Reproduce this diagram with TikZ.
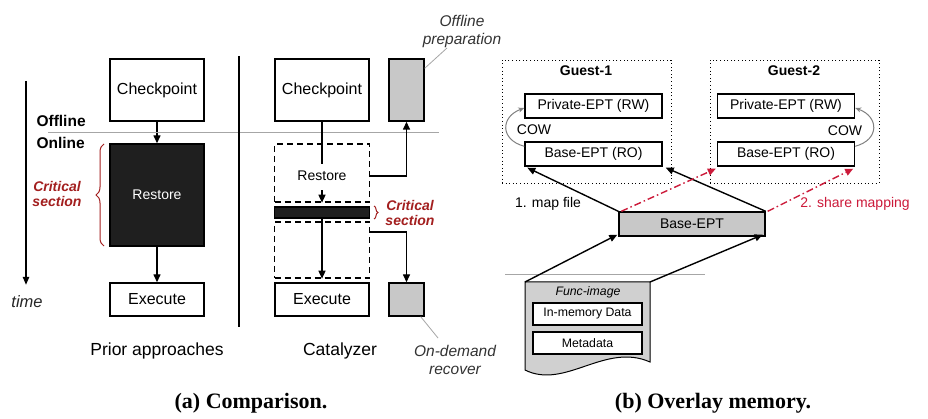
\documentclass[tikz,border=0pt]{standalone}
\usepackage{fontspec}
\setmainfont{Liberation Sans}
\newfontfamily\capfont{Liberation Serif}
\usetikzlibrary{arrows.meta,decorations.pathreplacing}
\definecolor{critred}{HTML}{A31F1F}
\definecolor{sharered}{HTML}{CC1A3A}
\definecolor{boxgray}{HTML}{C8C8C8}
\begin{document}
\begin{tikzpicture}[x=1pt,y=-1pt,
	box/.style={draw,line width=1.4pt,inner sep=0pt,minimum width=94pt,font=\fontsize{16}{19}\selectfont},
	dashbox/.style={draw,line width=1.4pt,dash pattern=on 6pt off 4pt,inner sep=0pt,minimum width=95pt},
	graybox/.style={draw,line width=1.4pt,fill=boxgray,inner sep=0pt,minimum width=35pt},
	eptbox/.style={draw,line width=1.4pt,inner sep=0pt,minimum width=137pt,minimum height=24pt,font=\fontsize{14}{17}\selectfont},
	guestbox/.style={draw,line width=0.9pt,dash pattern=on 1pt off 2.6pt,inner sep=0pt,minimum width=169pt,minimum height=123pt},
	flow/.style={-{Triangle[length=8pt,width=7pt]},line width=1.4pt},
	share/.style={-{Triangle[length=8pt,width=7pt]},line width=1.4pt,sharered,dash pattern=on 7pt off 3pt on 1.5pt off 3pt},
	cow/.style={-{Stealth[length=6pt,width=5pt]},line width=1pt,gray},
	leader/.style={line width=0.8pt,gray!70},
	crit/.style={critred,align=center,font=\fontsize{14}{15}\selectfont\bfseries\itshape},
	note/.style={align=center,font=\fontsize{15.5}{18}\selectfont\itshape,black!80},
	lbl/.style={font=\fontsize{17.5}{20}\selectfont},
	captxt/.style={font=\fontsize{22}{26}\selectfont\capfont\bfseries}]
	\useasboundingbox[fill=white] (0,0) rectangle (928,419);

	% (a) prior approaches
	\node[box,minimum height=62pt] (ckA) at (157,90) {Checkpoint};
	\node[box,minimum height=102pt,fill=black!88,text=white,font=\fontsize{14}{17}\selectfont] (rstA) at (157,195) {Restore};
	\node[box,minimum height=33pt] (exeA) at (157,299.5) {Execute};
	\draw[flow] (ckA.south) -- (rstA.north);
	\draw[flow] (rstA.south) -- (exeA.north);
	\draw[critred,line width=1pt,decorate,decoration={brace,amplitude=8pt}] (104,246) -- (104,144);
	\node[crit] (critA) at (57,194) {Critical\\section};

	\draw[-{Triangle[length=8pt,width=6pt]},line width=2pt] (26,81) -- (26,285);
	\node[font=\fontsize{16.5}{19}\selectfont\itshape,black!85] (time) at (27,302) {time};
	\node[anchor=west,font=\fontsize{15.5}{18}\selectfont\bfseries] (off) at (33,121) {Offline};
	\node[anchor=west,font=\fontsize{15.5}{18}\selectfont\bfseries] (on) at (33,143) {Online};
	\draw[leader] (48,132) -- (439,132);
	\draw[line width=2.5pt] (239,56) -- (239,327);

	% (a) catalyzer
	\node[box,minimum height=62pt] (ckB) at (322,90) {Checkpoint};
	\node[graybox,minimum height=62pt] (prepB) at (406.5,90) {};
	\node[dashbox,minimum height=58pt] (rstB) at (322,173) {};
	\node[font=\fontsize{14}{17}\selectfont] (rstBtxt) at (322,176) {Restore};
	\node[draw,line width=1.4pt,fill=black!88,minimum width=95pt,minimum height=11pt,inner sep=0pt] (barB) at (322,212.5) {};
	\node[dashbox,minimum height=56pt] (lowB) at (322,250) {};
	\node[box,minimum height=33pt] (exeB) at (322,299.5) {Execute};
	\node[graybox,minimum height=33pt] (recB) at (406.5,299.5) {};
	\draw[line width=1.4pt,shorten >=4pt] (ckB.south) -- (rstBtxt.north);
	\draw[flow,shorten <=6pt] (rstBtxt.south) -- (rstB.south);
	\draw[flow] (barB.south) -- (lowB.south);
	\draw[flow] (rstB.east |- rstBtxt) -| (prepB.south);
	\draw[flow] ([yshift=18pt]lowB.east) -| (recB.north);
	\draw[critred,line width=1pt,decorate,decoration={brace,amplitude=4pt}] (374,206) -- (374,219);
	\node[crit] (critB) at (410,213) {Critical\\section};

	\node[note] (prepTxt) at (462,31) {Offline\\preparation};
	\node[note] (recTxt) at (455,360) {On-demand\\recover};
	\draw[leader] ([yshift=-10pt]prepB.north east) -- (447,48);
	\draw[leader] ([xshift=-4pt]recB.south east) -- (438,338);

	\node[lbl] (priorTxt) at (157,351) {Prior approaches};
	\node[lbl] (catTxt) at (340,351) {Catalyzer};
	\node[captxt] (capA) at (251,403) {(a) Comparison.};

	% (b) overlay memory
	\node[guestbox] (g1) at (586.5,121.5) {};
	\node[guestbox] (g2) at (794.5,121.5) {};
	\node[font=\fontsize{14}{17}\selectfont\bfseries] (g1Txt) at (586,71) {Guest-1};
	\node[font=\fontsize{14}{17}\selectfont\bfseries] (g2Txt) at (794,71) {Guest-2};
	\node[eptbox] (p1) at (593.5,106) {Private-EPT (RW)};
	\node[eptbox] (b1) at (593.5,154) {Base-EPT (RO)};
	\node[eptbox] (p2) at (786,106) {Private-EPT (RW)};
	\node[eptbox] (b2) at (786,154) {Base-EPT (RO)};
	\node[font=\fontsize{14}{17}\selectfont] (cow1) at (534,130) {COW};
	\node[font=\fontsize{14}{17}\selectfont] (cow2) at (845,131) {COW};
	\draw[cow] ([yshift=-5pt]b1.north west) to[out=165,in=200,looseness=1.7] ([yshift=-2pt]p1.west);
	\draw[cow] ([yshift=-5pt]b2.north east) to[out=15,in=-20,looseness=1.7] ([yshift=-2pt]p2.east);

	\node[eptbox,fill=boxgray,minimum width=146pt] (be) at (692,224) {Base-EPT};
	\draw[flow] (be.north west) -- ([xshift=3pt,yshift=-1pt]b1.south west);
	\draw[flow] (be.north east) -- ([xshift=3pt,yshift=-1pt]b1.south east);
	\draw[share] ([xshift=3pt]be.north west) -- ([xshift=-1pt,yshift=-2pt]b2.south west);
	\draw[share] ([xshift=2pt]be.north east) -- ([xshift=-2pt,yshift=-2pt]b2.south east);
	\node[font=\fontsize{14}{17}\selectfont] (mapTxt) at (548,204) {1. map file};
	\node[font=\fontsize{14}{17}\selectfont,sharered] (shareTxt) at (855,204) {2. share mapping};

	\draw[leader] (505,274) -- (705,274);
	\coordinate (imgTL) at (525,282);
	\coordinate (imgTR) at (650,282);
	\draw[line width=1pt,fill=boxgray!85] (imgTL) -- (imgTR) -- (650,362)
		.. controls (605,342) and (565,390) .. (525,370) -- cycle;
	\draw[flow] (imgTL) -- ([xshift=-1pt,yshift=2pt]be.south west);
	\draw[flow] (imgTR) -- ([xshift=-3pt,yshift=2pt]be.south east);
	\node[font=\fontsize{12.3}{15}\selectfont\itshape] (imgTxt) at (588,292) {Func-image};
	\node[draw,fill=white,line width=1.4pt,minimum width=109pt,minimum height=22pt,inner sep=0pt,font=\fontsize{12.3}{15}\selectfont] (mem) at (587.5,314) {In-memory Data};
	\node[draw,fill=white,line width=1.4pt,minimum width=109pt,minimum height=22pt,inner sep=0pt,font=\fontsize{12.3}{15}\selectfont] (meta) at (587.5,343) {Metadata};

	\node[captxt] (capB) at (713,403) {(b) Overlay memory.};
\end{tikzpicture}
\end{document}
